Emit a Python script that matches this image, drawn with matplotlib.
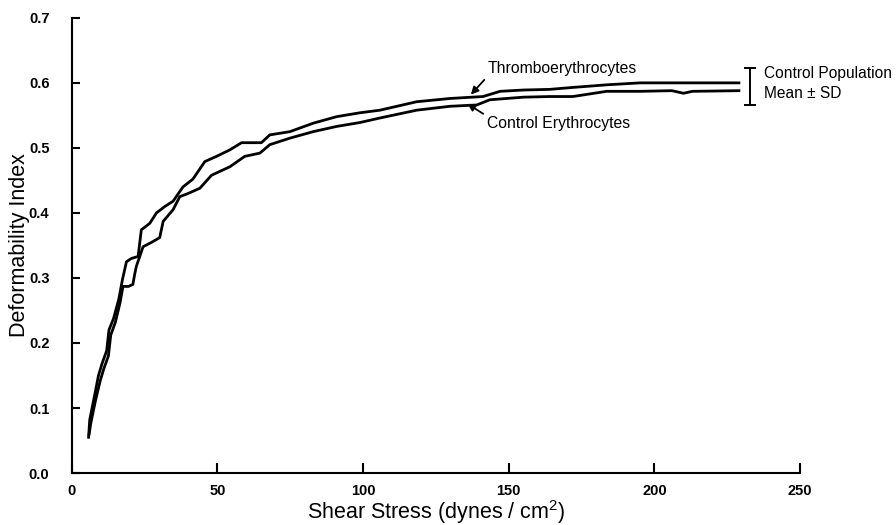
import matplotlib
matplotlib.use("Agg")
import matplotlib.pyplot as plt

plt.rcParams['font.family'] = ['Liberation Sans', 'DejaVu Sans']
plt.rcParams['mathtext.fontset'] = 'custom'
plt.rcParams['mathtext.rm'] = 'Liberation Sans'
plt.rcParams['mathtext.it'] = 'Liberation Sans'
plt.rcParams['mathtext.bf'] = 'Liberation Sans:bold'

# Thromboerythrocytes
thrombo_x = [5.8, 6.2, 7.0, 7.8, 9.2, 10.4, 12.0, 12.8, 14.4, 16.2, 17.4, 18.8, 20.5, 22.8,
             23.9, 26.8, 29.1, 32.0, 34.8, 38.2, 41.6, 45.7, 49.7, 54.3, 58.3, 61.5, 65.1,
             68.0, 74.9, 82.9, 90.9, 98.9, 105.8, 118.4, 129.8, 141.2, 147.0, 155.0, 164.0,
             172.0, 183.6, 195.0, 210.0, 229.0]
thrombo_y = [0.055, 0.082, 0.100, 0.118, 0.150, 0.168, 0.188, 0.220, 0.238, 0.268, 0.297, 0.325,
             0.330, 0.333, 0.374, 0.384, 0.400, 0.410, 0.418, 0.440, 0.452, 0.479, 0.487, 0.497,
             0.508, 0.508, 0.508, 0.520, 0.525, 0.538, 0.548, 0.554, 0.558, 0.571, 0.576, 0.579,
             0.587, 0.589, 0.590, 0.593, 0.597, 0.600, 0.600, 0.600]

# Control erythrocytes
control_x = [6.0, 6.5, 7.4, 8.2, 9.8, 11.0, 12.6, 13.4, 15.0, 16.6, 17.6, 19.5, 21.0, 21.6,
             22.2, 23.9, 24.5, 27.5, 30.2, 31.4, 34.8, 37.1, 40.0, 44.0, 48.0, 54.3, 59.4,
             64.6, 68.0, 74.9, 82.9, 90.9, 98.9, 105.8, 118.4, 129.8, 139.0, 143.5, 155.0,
             164.0, 172.0, 183.6, 195.0, 206.0, 210.0, 213.0, 229.0]
control_y = [0.060, 0.075, 0.095, 0.112, 0.142, 0.160, 0.180, 0.212, 0.232, 0.262, 0.287, 0.287,
             0.290, 0.305, 0.318, 0.340, 0.348, 0.355, 0.362, 0.387, 0.405, 0.425, 0.430, 0.438,
             0.458, 0.471, 0.487, 0.492, 0.505, 0.515, 0.525, 0.533, 0.539, 0.546, 0.558, 0.564,
             0.566, 0.574, 0.578, 0.579, 0.579, 0.587, 0.587, 0.588, 0.584, 0.587, 0.588]

# Control population mean ± SD
pop_x = 232.8
pop_mean = 0.5945
pop_sd = 0.0285

fig = plt.figure(figsize=(8.96, 5.25), dpi=100)
ax = fig.add_axes([0.080, 0.099, 0.813, 0.867])

ax.plot(thrombo_x, thrombo_y, color='black', lw=2.0, solid_joinstyle='round')
ax.plot(control_x, control_y, color='black', lw=2.0, solid_joinstyle='round')

ax.errorbar([pop_x], [pop_mean], yerr=[pop_sd], fmt='none', ecolor='black',
            elinewidth=1.4, capsize=4, capthick=1.4, clip_on=False)

ax.text(237.6, 0.614, 'Control Population', fontsize=11.2, va='center', ha='left',
        clip_on=False)
ax.text(237.6, 0.584, 'Mean \u00b1 SD', fontsize=11.2, va='center', ha='left',
        clip_on=False)

ax.annotate('Thromboerythrocytes', xy=(137.0, 0.582), xytext=(142.8, 0.622),
            fontsize=11.3, va='center', ha='left',
            arrowprops=dict(arrowstyle='-|>', color='black', lw=1.3,
                            mutation_scale=11, shrinkA=1, shrinkB=0, relpos=(0.0, 0.0)))
ax.annotate('Control Erythrocytes', xy=(135.8, 0.568), xytext=(142.6, 0.537),
            fontsize=11.3, va='center', ha='left',
            arrowprops=dict(arrowstyle='-|>', color='black', lw=1.3,
                            mutation_scale=11, shrinkA=1, shrinkB=0, relpos=(0.0, 1.0)))

ax.set_xlim(0, 250)
ax.set_ylim(0, 0.7)
ax.set_xticks([0, 50, 100, 150, 200, 250])
ax.set_yticks([0.0, 0.1, 0.2, 0.3, 0.4, 0.5, 0.6, 0.7])
ax.set_yticklabels(['0.0', '0.1', '0.2', '0.3', '0.4', '0.5', '0.6', '0.7'])

for s in ['top', 'right']:
    ax.spines[s].set_visible(False)
for s in ['left', 'bottom']:
    ax.spines[s].set_linewidth(1.5)

ax.tick_params(axis='x', direction='in', length=7, width=1.5, pad=8, labelsize=10.5)
ax.tick_params(axis='y', direction='in', length=6, width=1.5, pad=16, labelsize=10.5)
for lab in ax.get_xticklabels() + ax.get_yticklabels():
    lab.set_fontweight('bold')

ax.set_xlabel('Shear Stress (dynes / cm$^{2}$)', fontsize=15.5, labelpad=0)
ax.set_ylabel('Deformability Index', fontsize=15.5, labelpad=-1)

fig.savefig('out.png', dpi=100)
